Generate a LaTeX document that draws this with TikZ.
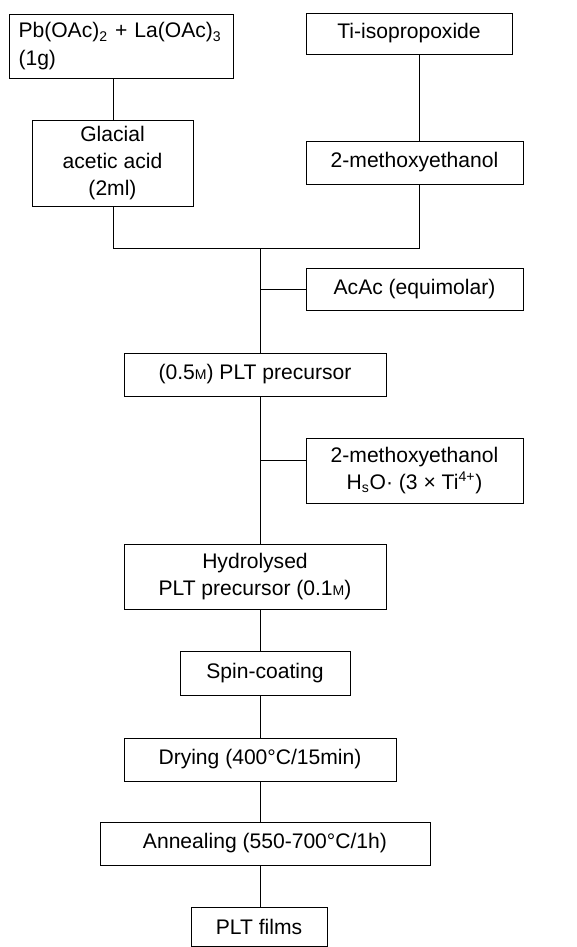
\documentclass[tikz,border=0pt]{standalone}
\usepackage{fontspec}
\setmainfont{Liberation Sans}

\begin{document}
\begin{tikzpicture}[x=0.02cm,y=-0.02cm,font=\fontsize{12}{15.5}\selectfont,
			box/.style={draw, line width=0.5pt, inner sep=0pt, align=center},
			link/.style={line width=0.5pt}]
				\useasboundingbox (0,0) rectangle (576,947);
				\node[box, minimum width=4.48cm, minimum height=1.28cm, text width=4.1cm, align=left] (pb) at (121,46) {Pb(OAc)\textsubscript{2} + La(OAc)\textsubscript{3}\\(1g)};
				\node[box, minimum width=4.12cm, minimum height=0.82cm] (ti) at (409,33.5) {Ti-isopropoxide};
				\node[box, minimum width=3.22cm, minimum height=1.72cm] (glacial) at (112.5,163) {Glacial\\acetic acid\\(2ml)};
				\node[box, minimum width=4.34cm, minimum height=0.86cm] (meth) at (414.5,162.5) {2-methoxyethanol};
				\node[box, minimum width=4.34cm, minimum height=0.84cm] (acac) at (414.5,289) {AcAc (equimolar)};
				\node[box, minimum width=5.24cm, minimum height=0.86cm] (prec) at (255,374.5) {(0.5{\footnotesize M}) PLT precursor};
				\node[box, minimum width=4.34cm, minimum height=1.30cm] (water) at (414.5,470.5) {2-methoxyethanol\\H\textsubscript{s}O· (3 × Ti\textsuperscript{4+})};
				\node[box, minimum width=5.24cm, minimum height=1.30cm] (hydro) at (255,576.5) {Hydrolysed\\PLT precursor (0.1{\footnotesize M})};
				\node[box, minimum width=3.40cm, minimum height=0.88cm] (spin) at (265,673) {Spin-coating};
				\node[box, minimum width=5.44cm, minimum height=0.86cm] (dry) at (260,759.5) {Drying (400°C/15min)};
				\node[box, minimum width=6.60cm, minimum height=0.86cm] (anneal) at (265,843.5) {Annealing (550-700°C/1h)};
				\node[box, minimum width=2.72cm, minimum height=0.78cm] (films) at (259,926.5) {PLT films};
				% junction points
				\coordinate (lj) at (113,248);
				\coordinate (rj) at (419,248);
				\coordinate (cj) at (260,248);
				\draw[link] (pb.south -| lj) -- (glacial.north -| lj);
				\draw[link] (ti.south -| rj) -- (meth.north -| rj);
				\draw[link] (glacial.south -| lj) -- (lj) -- (rj) -- (meth.south -| rj);
				\draw[link] (cj) -- (prec.north -| cj);
				\draw[link] (acac.west) -- (acac.west -| cj);
				\draw[link] (prec.south -| cj) -- (hydro.north -| cj);
				\draw[link] ([yshift=0.21cm]water.west) -- ([yshift=0.21cm]water.west -| cj);
				\draw[link] (hydro.south -| cj) -- (spin.north -| cj);
				\draw[link] (spin.south -| cj) -- (dry.north -| cj);
				\draw[link] (dry.south -| cj) -- (anneal.north -| cj);
				\draw[link] (anneal.south -| cj) -- (films.north -| cj);
			\end{tikzpicture}
\end{document}
